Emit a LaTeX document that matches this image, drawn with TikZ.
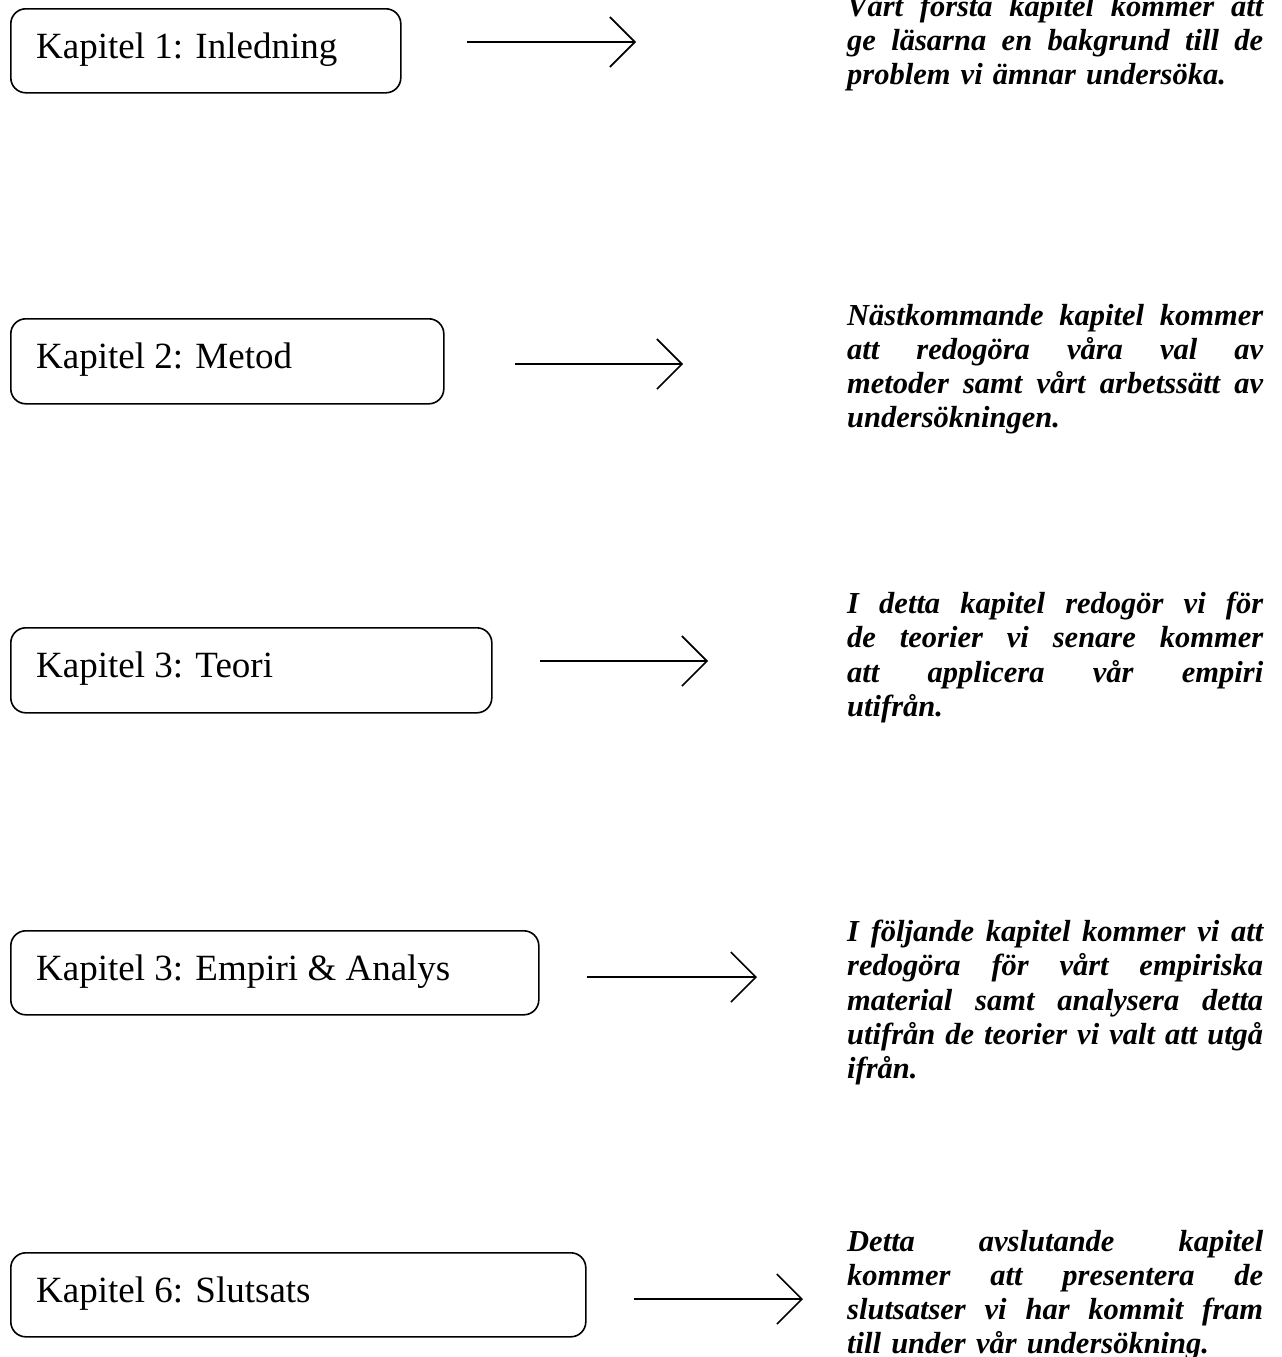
\documentclass[tikz,border=0pt]{standalone}
\usepackage{fontspec}
\setmainfont{Liberation Serif}
\usetikzlibrary{arrows.meta}
\tikzset{
  chapbox/.style={draw, line width=1.6pt, rounded corners=15pt, inner sep=0pt, anchor=north west},
  chaptext/.style={anchor=base west, inner sep=0pt, font=\fontsize{37}{44}\selectfont},
  desc/.style={anchor=north west, inner sep=0pt, text width=416pt, align=left,
    font=\fontsize{30.5}{34.2}\selectfont\bfseries\itshape},
  flow/.style={line width=1.6pt, -{Straight Barb[length=25pt,width=50pt,line width=1.6pt]}}
}
\newcommand{\jl}[1]{\leavevmode\hbox to 416pt{\spaceskip=0.25em plus 1fil minus 0.08em\relax #1}\\}
\begin{document}
\begin{tikzpicture}[x=1pt,y=-1pt]
\useasboundingbox (0,0) rectangle (1282,1357);
% boxes
\node[chapbox, minimum width=390pt, minimum height=84pt] (b1) at (10,8) {};
\node[chapbox, minimum width=433pt, minimum height=85pt] (b2) at (10,318) {};
\node[chapbox, minimum width=481pt, minimum height=85pt] (b3) at (10,627) {};
\node[chapbox, minimum width=528pt, minimum height=84pt] (b4) at (10,930) {};
\node[chapbox, minimum width=575pt, minimum height=84pt] (b5) at (10,1252) {};
% box texts
\node[chaptext] (t1) at (36,58) {Kapitel 1: Inledning};
\node[chaptext] (t2) at (36,368) {Kapitel 2: Metod};
\node[chaptext] (t3) at (36,677) {Kapitel 3: Teori};
\node[chaptext] (t4) at (36,980) {Kapitel 3: Empiri \& Analys};
\node[chaptext] (t5) at (36,1302) {Kapitel 6: Slutsats};
% arrows
\coordinate (a1s) at (467,42);  \coordinate (a1e) at (636,42);
\coordinate (a2s) at (515,364); \coordinate (a2e) at (683,364);
\coordinate (a3s) at (540,661); \coordinate (a3e) at (708,661);
\coordinate (a4s) at (587,977); \coordinate (a4e) at (757,977);
\coordinate (a5s) at (634,1299); \coordinate (a5e) at (803,1299);
\foreach \i in {1,...,5} \draw[flow] (a\i s) -- (a\i e);
% descriptions
\node[desc] (d1) at (847,-6) {\jl{Vårt första kapitel kommer att}\jl{ge läsarna en bakgrund till de}problem vi ämnar undersöka.};
\node[desc] (d2) at (847,304) {\jl{Nästkommande kapitel kommer}\jl{att redogöra våra val av}\jl{metoder samt vårt arbetssätt av}undersökningen.};
\node[desc] (d3) at (847,592) {\jl{I detta kapitel redogör vi för}\jl{de teorier vi senare kommer}\jl{att applicera vår empiri}utifrån.};
\node[desc] (d4) at (847,920) {\jl{I följande kapitel kommer vi att}\jl{redogöra för vårt empiriska}\jl{material samt analysera detta}\jl{utifrån de teorier vi valt att utgå}ifrån.};
\node[desc] (d5) at (847,1230) {\jl{Detta avslutande kapitel}\jl{kommer att presentera de}\jl{slutsatser vi har kommit fram}till under vår undersökning.};
\end{tikzpicture}
\end{document}
